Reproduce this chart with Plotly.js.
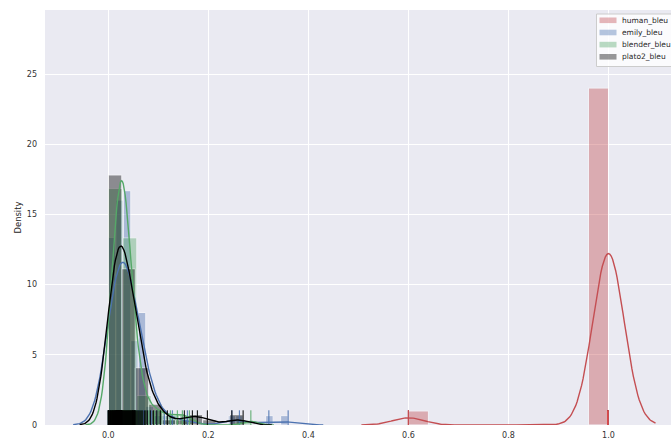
<!DOCTYPE html>
<html><head><meta charset="utf-8">
<script src="https://cdn.plot.ly/plotly-3.0.1.min.js"></script>
<style>html,body{margin:0;padding:0;overflow:hidden;background:#fff}#chart{width:700px;height:443px}</style>
</head><body><div id="chart"></div>
<script>
// ---------- data ----------
const seriesNames = ['human_bleu', 'emily_bleu', 'blender_bleu', 'plato2_bleu'];

const humanBleu = [
  0.6, 0.6, 0.6, 0.6,
  1.0, 1.0, 1.0, 1.0, 1.0, 1.0, 1.0, 1.0, 1.0, 1.0, 1.0, 1.0,
  1.0, 1.0, 1.0, 1.0, 1.0, 1.0, 1.0, 1.0, 1.0, 1.0, 1.0, 1.0,
  1.0, 1.0, 1.0, 1.0, 1.0, 1.0, 1.0, 1.0, 1.0, 1.0, 1.0, 1.0,
  1.0, 1.0, 1.0, 1.0, 1.0, 1.0, 1.0, 1.0, 1.0, 1.0, 1.0, 1.0,
  1.0, 1.0, 1.0, 1.0, 1.0, 1.0, 1.0, 1.0, 1.0, 1.0, 1.0, 1.0,
  1.0, 1.0, 1.0, 1.0, 1.0, 1.0, 1.0, 1.0, 1.0, 1.0, 1.0, 1.0,
  1.0, 1.0, 1.0, 1.0, 1.0, 1.0, 1.0, 1.0, 1.0, 1.0, 1.0, 1.0,
  1.0, 1.0, 1.0, 1.0, 1.0, 1.0, 1.0, 1.0, 1.0, 1.0, 1.0, 1.0
];

const emilyBleu = [
  0, 0, 0.001, 0.002, 0.003, 0.004, 0.005, 0.006, 0.007, 0.008, 0.009, 0.009,
  0.01, 0.011, 0.011, 0.012, 0.012, 0.013, 0.014, 0.014,
  0.0155, 0.016, 0.017, 0.017, 0.018, 0.018, 0.019, 0.019, 0.02, 0.02, 0.021, 0.021,
  0.022, 0.022, 0.023, 0.023, 0.024, 0.025, 0.025, 0.026, 0.027, 0.027, 0.028, 0.029,
  0.0305, 0.031, 0.031, 0.032, 0.032, 0.033, 0.033, 0.034, 0.034, 0.035, 0.035, 0.036,
  0.036, 0.037, 0.037, 0.038, 0.038, 0.039, 0.04, 0.041, 0.041, 0.042, 0.043, 0.044, 0.0445,
  0.046, 0.048, 0.049, 0.051, 0.052, 0.054, 0.055, 0.057, 0.059,
  0.061, 0.062, 0.063, 0.064, 0.065, 0.066, 0.067, 0.068, 0.07, 0.071, 0.072, 0.074,
  0.079, 0.086, 0.097, 0.112, 0.128, 0.158,
  0.247, 0.262, 0.321, 0.3595
];

const blenderBleu = [
  0, 0.003, 0.005, 0.006, 0.007, 0.008, 0.009, 0.01, 0.011, 0.011, 0.012, 0.013,
  0.013, 0.014, 0.015, 0.015, 0.016, 0.016, 0.017, 0.017, 0.018, 0.018, 0.018, 0.019,
  0.019, 0.019, 0.02, 0.02, 0.021, 0.021, 0.022, 0.022, 0.023, 0.023, 0.024, 0.024,
  0.024, 0.025, 0.025, 0.025, 0.026, 0.026, 0.026, 0.027, 0.027, 0.027, 0.028, 0.028,
  0.029, 0.029, 0.03, 0.03, 0.03, 0.031, 0.031, 0.031, 0.032, 0.032, 0.032, 0.033,
  0.033, 0.033, 0.034, 0.034, 0.035, 0.035, 0.036, 0.036, 0.037, 0.037, 0.038, 0.038,
  0.039, 0.04, 0.041, 0.042, 0.043, 0.044, 0.045, 0.046, 0.047, 0.048, 0.05, 0.052,
  0.054, 0.056,
  0.059, 0.063, 0.065, 0.068, 0.074, 0.081, 0.092, 0.099, 0.105, 0.124, 0.138,
  0.148, 0.162, 0.285
];

const plato2Bleu = [
  0, 0, 0, 0.001, 0.002, 0.003, 0.004, 0.005, 0.005, 0.006, 0.007, 0.008,
  0.008, 0.009, 0.01, 0.011, 0.011, 0.012, 0.013, 0.013, 0.014, 0.015, 0.015, 0.016,
  0.016, 0.017, 0.017, 0.018, 0.018, 0.019, 0.019, 0.02, 0.02, 0.021, 0.021, 0.022,
  0.022, 0.023, 0.023, 0.024, 0.024, 0.025, 0.025, 0.025, 0.026, 0.026, 0.026, 0.0265,
  0.0275, 0.028, 0.029, 0.03, 0.031, 0.032, 0.033, 0.034, 0.035, 0.036, 0.037, 0.038,
  0.039, 0.04, 0.041, 0.042, 0.043, 0.044, 0.045, 0.046, 0.047, 0.048, 0.0485, 0.049,
  0.05, 0.051, 0.0515, 0.052, 0.053, 0.0535,
  0.055, 0.057, 0.059, 0.061, 0.063, 0.065, 0.067, 0.069, 0.072, 0.075, 0.078,
  0.084, 0.09, 0.097, 0.104, 0.118, 0.152, 0.168, 0.178, 0.198, 0.247, 0.2695
];

const xTickVals = [0.0, 0.2, 0.4, 0.6, 0.8, 1.0];
const xTickText = ['0.0', '0.2', '0.4', '0.6', '0.8', '1.0'];
const yTickVals = [0, 5, 10, 15, 20, 25];
const yTickText = ['0', '5', '10', '15', '20', '25'];

// ---------- style ----------
const seriesData = [humanBleu, emilyBleu, blenderBleu, plato2Bleu];
const seriesColors = ['#C44E52', '#4C72B0', '#55A868', '#000000'];
const histRGBA = ['rgba(196,78,82,0.4)', 'rgba(76,114,176,0.4)', 'rgba(85,168,104,0.4)', 'rgba(0,0,0,0.4)'];
const binCounts = [10, 24, 10, 10];

// Gaussian KDE with Scott's rule, support cut at 3 bandwidths (as seaborn)
function kde(data, gridsize) {
  const n = data.length;
  const mean = data.reduce((a, b) => a + b, 0) / n;
  const v = data.reduce((a, b) => a + (b - mean) * (b - mean), 0) / (n - 1);
  const bw = Math.sqrt(v) * Math.pow(n, -0.2);
  const lo = Math.min(...data) - 3 * bw, hi = Math.max(...data) + 3 * bw;
  const xs = [], ys = [];
  const c = 1 / (n * bw * Math.sqrt(2 * Math.PI));
  for (let i = 0; i < gridsize; i++) {
    const x = lo + (hi - lo) * i / (gridsize - 1);
    let s = 0;
    for (const d of data) { const z = (x - d) / bw; s += Math.exp(-0.5 * z * z); }
    xs.push(x); ys.push(s * c);
  }
  return {xs, ys};
}

const traces = [];
seriesData.forEach((d, i) => {
  const mn = Math.min(...d), mx = Math.max(...d);
  const size = (mx - mn) / binCounts[i] * 1.000001;
  traces.push({
    type: 'histogram', x: d, histnorm: 'probability density',
    autobinx: false, xbins: {start: mn, end: mx, size: size},
    marker: {color: seriesColors[i], line: {color: '#ffffff', width: 1}},
    opacity: 0.4, hoverinfo: 'skip', name: seriesNames[i]
  });
});
seriesData.forEach((d, i) => {
  const k = kde(d, 200);
  traces.push({
    type: 'scatter', mode: 'lines', x: k.xs, y: k.ys,
    line: {color: seriesColors[i], width: 1.4}, hoverinfo: 'skip', showlegend: false
  });
  traces.push({
    type: 'scatter', mode: 'markers', x: d, y: d.map(() => 0),
    marker: {symbol: 'line-ns-open', size: 21, color: seriesColors[i], line: {color: seriesColors[i], width: 1}},
    cliponaxis: true, hoverinfo: 'skip', showlegend: false
  });
});

// ---------- custom legend (matplotlib style) ----------
const W = 700, H = 443, ML = 45, MR = 15, MT = 10, MB = 18;
const PW = W - ML - MR, PH = H - MT - MB;
const px = v => (v - ML) / PW;
const py = v => (H - MB - v) / PH;
const shapes = [{
  type: 'rect', xref: 'paper', yref: 'paper',
  x0: px(596.5), x1: px(695), y0: py(66.5), y1: py(14),
  fillcolor: 'rgba(255,255,255,0.8)', line: {color: '#cccccc', width: 1}
}];
const annotations = [];
const rowY = [20.3, 32.5, 44.6, 56.8];
seriesNames.forEach((nm, i) => {
  shapes.push({
    type: 'rect', xref: 'paper', yref: 'paper',
    x0: px(599.5), x1: px(616.5), y0: py(rowY[i] + 2.8), y1: py(rowY[i] - 2.8),
    fillcolor: histRGBA[i], line: {width: 0}
  });
  annotations.push({
    xref: 'paper', yref: 'paper', x: px(620), y: py(rowY[i]),
    xanchor: 'left', yanchor: 'middle', showarrow: false, text: nm,
    font: {family: 'DejaVu Sans, sans-serif', size: 7.5, color: '#262626'}
  });
});

const layout = {
  width: W, height: H,
  margin: {l: ML, r: MR, t: MT, b: MB, pad: 0},
  paper_bgcolor: '#ffffff', plot_bgcolor: '#EAEAF2',
  barmode: 'overlay', showlegend: false,
  font: {family: 'DejaVu Sans, sans-serif', size: 8, color: '#333333'},
  xaxis: {
    range: [-0.1266, 1.153], tickvals: xTickVals, ticktext: xTickText,
    showgrid: true, gridcolor: '#ffffff', gridwidth: 1, zeroline: false, showline: false,
    ticks: '', ticklabelstandoff: 4, tickfont: {size: 8, color: '#333333'}
  },
  yaxis: {
    range: [0, 29.56], tickvals: yTickVals, ticktext: yTickText,
    showgrid: true, gridcolor: '#ffffff', gridwidth: 1, zeroline: false, showline: false,
    ticks: '', ticklabelstandoff: 7, tickfont: {size: 8, color: '#333333'},
    title: {text: 'Density', font: {size: 8.4, color: '#262626'}, standoff: 3}
  },
  shapes: shapes, annotations: annotations
};

Plotly.newPlot('chart', traces, layout, {displayModeBar: false, staticPlot: true});
</script></body></html>
